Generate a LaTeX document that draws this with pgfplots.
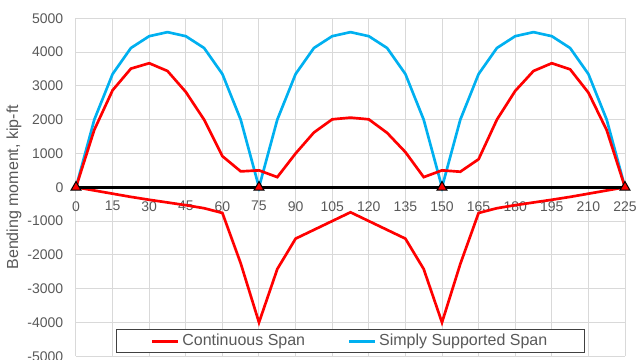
\documentclass[border=0pt]{standalone}
\usepackage{pgfplots}
\pgfplotsset{compat=1.18}
\usepackage{fontspec}
\setmainfont{Liberation Sans}
\definecolor{txt}{HTML}{595959}
\definecolor{gridc}{HTML}{D9D9D9}
\definecolor{cred}{HTML}{FF0000}
\definecolor{cblue}{HTML}{00B0F0}
\begin{document}
\begin{tikzpicture}
\begin{axis}[
  scale only axis, width=411.75pt, height=253.5pt,
  xmin=0, xmax=225, ymin=-5000, ymax=5000,
  clip=false,
  axis x line=middle, axis y line=left,
  axis line style={-}, x axis line style={draw=none}, y axis line style={draw=none},
  hide obscured x ticks=false, hide obscured y ticks=false,
  major tick length=0pt,
  xtick={0,15,...,225},
  xticklabels={0,15,30,45,60,75,90,105,120,135,150,165,180,195,210,225},
  ytick={-5000,-4000,-3000,-2000,-1000,0,1000,2000,3000,4000,5000},
  yticklabels={-5000,-4000,-3000,-2000,-1000,0,1000,2000,3000,4000,5000},
  grid=major, major grid style={draw=gridc, line width=0.75pt},
  ticklabel style={font=\fontsize{10.5}{12}\selectfont, text=txt},
  xticklabel style={yshift=-7pt},
  yticklabel style={xshift=-6pt},
  ylabel={Bending moment, kip-ft},
  ylabel style={at={(axis description cs:-0.1129,0.5)}, anchor=center, rotate=0, font=\fontsize{12}{14}\selectfont, text=txt},
  legend columns=2,
  legend cell align=left,
  legend style={at={(axis description cs:0.5,0)}, anchor=south, yshift=2.25pt,
    draw=black!75, line width=0.9pt, fill=white, inner xsep=26pt, inner ysep=1.5pt,
    font=\fontsize{12}{14}\selectfont, text=txt,
    /tikz/every even column/.append style={column sep=30pt}},
  legend image code/.code={\draw[#1, line width=2pt] (0pt,0pt) -- (19.5pt,0pt);},
]
\coordinate (pSW) at (rel axis cs:0,0);
\coordinate (pNE) at (rel axis cs:1,1);
\addlegendimage{cred}
\addlegendentry{Continuous Span}
\addlegendimage{cblue}
\addlegendentry{Simply Supported Span}
% Simply supported
\addplot[cblue, line width=2pt, no marks, forget plot] coordinates {
(0,0)(7.5,2000)(15,3350)(22.5,4120)(30,4470)(37.5,4590)(45,4470)(52.5,4120)(60,3350)(67.5,2000)(75,0)
(82.5,2000)(90,3350)(97.5,4120)(105,4470)(112.5,4590)(120,4470)(127.5,4120)(135,3350)(142.5,2000)(150,0)
(157.5,2000)(165,3350)(172.5,4120)(180,4470)(187.5,4590)(195,4470)(202.5,4120)(210,3350)(217.5,2000)(225,0)};
% Continuous positive
\addplot[cred, line width=2pt, no marks, forget plot] coordinates {
(0,0)(7.5,1700)(15,2870)(22.5,3510)(30,3670)(37.5,3440)(45,2820)(52.5,2000)(60,920)(67.5,470)(75,500)
(82.5,300)(90,1000)(97.5,1620)(105,2010)(112.5,2060)(120,2010)(127.5,1610)(135,1040)(142.5,300)(150,500)
(157.5,460)(165,830)(172.5,2000)(180,2850)(187.5,3440)(195,3670)(202.5,3490)(210,2800)(217.5,1690)(225,0)};
% Continuous negative
\addplot[cred, line width=2pt, no marks, forget plot] coordinates {
(0,0)(7.5,-95)(15,-190)(22.5,-285)(30,-370)(37.5,-450)(45,-530)(52.5,-620)(60,-760)(67.5,-2250)(75,-4000)
(82.5,-2420)(90,-1520)(97.5,-1260)(105,-1000)(112.5,-740)(120,-1000)(127.5,-1260)(135,-1520)(142.5,-2420)(150,-4000)
(157.5,-2270)(165,-760)(172.5,-620)(180,-530)(187.5,-450)(195,-370)(202.5,-285)(210,-190)(217.5,-95)(225,0)};
% Supports
\addplot[black, line width=2.25pt, mark=triangle*, mark size=4.3pt,
  mark options={fill=cred, draw=black, line width=0.75pt}, forget plot] coordinates {
(0,0)(75,0)(150,0)(225,0)};
\end{axis}
\pgfresetboundingbox
\path[use as bounding box] ([shift={(-57pt,-2.8pt)}]pSW) rectangle ([shift={(8.25pt,13.7pt)}]pNE);
\end{tikzpicture}
\end{document}
